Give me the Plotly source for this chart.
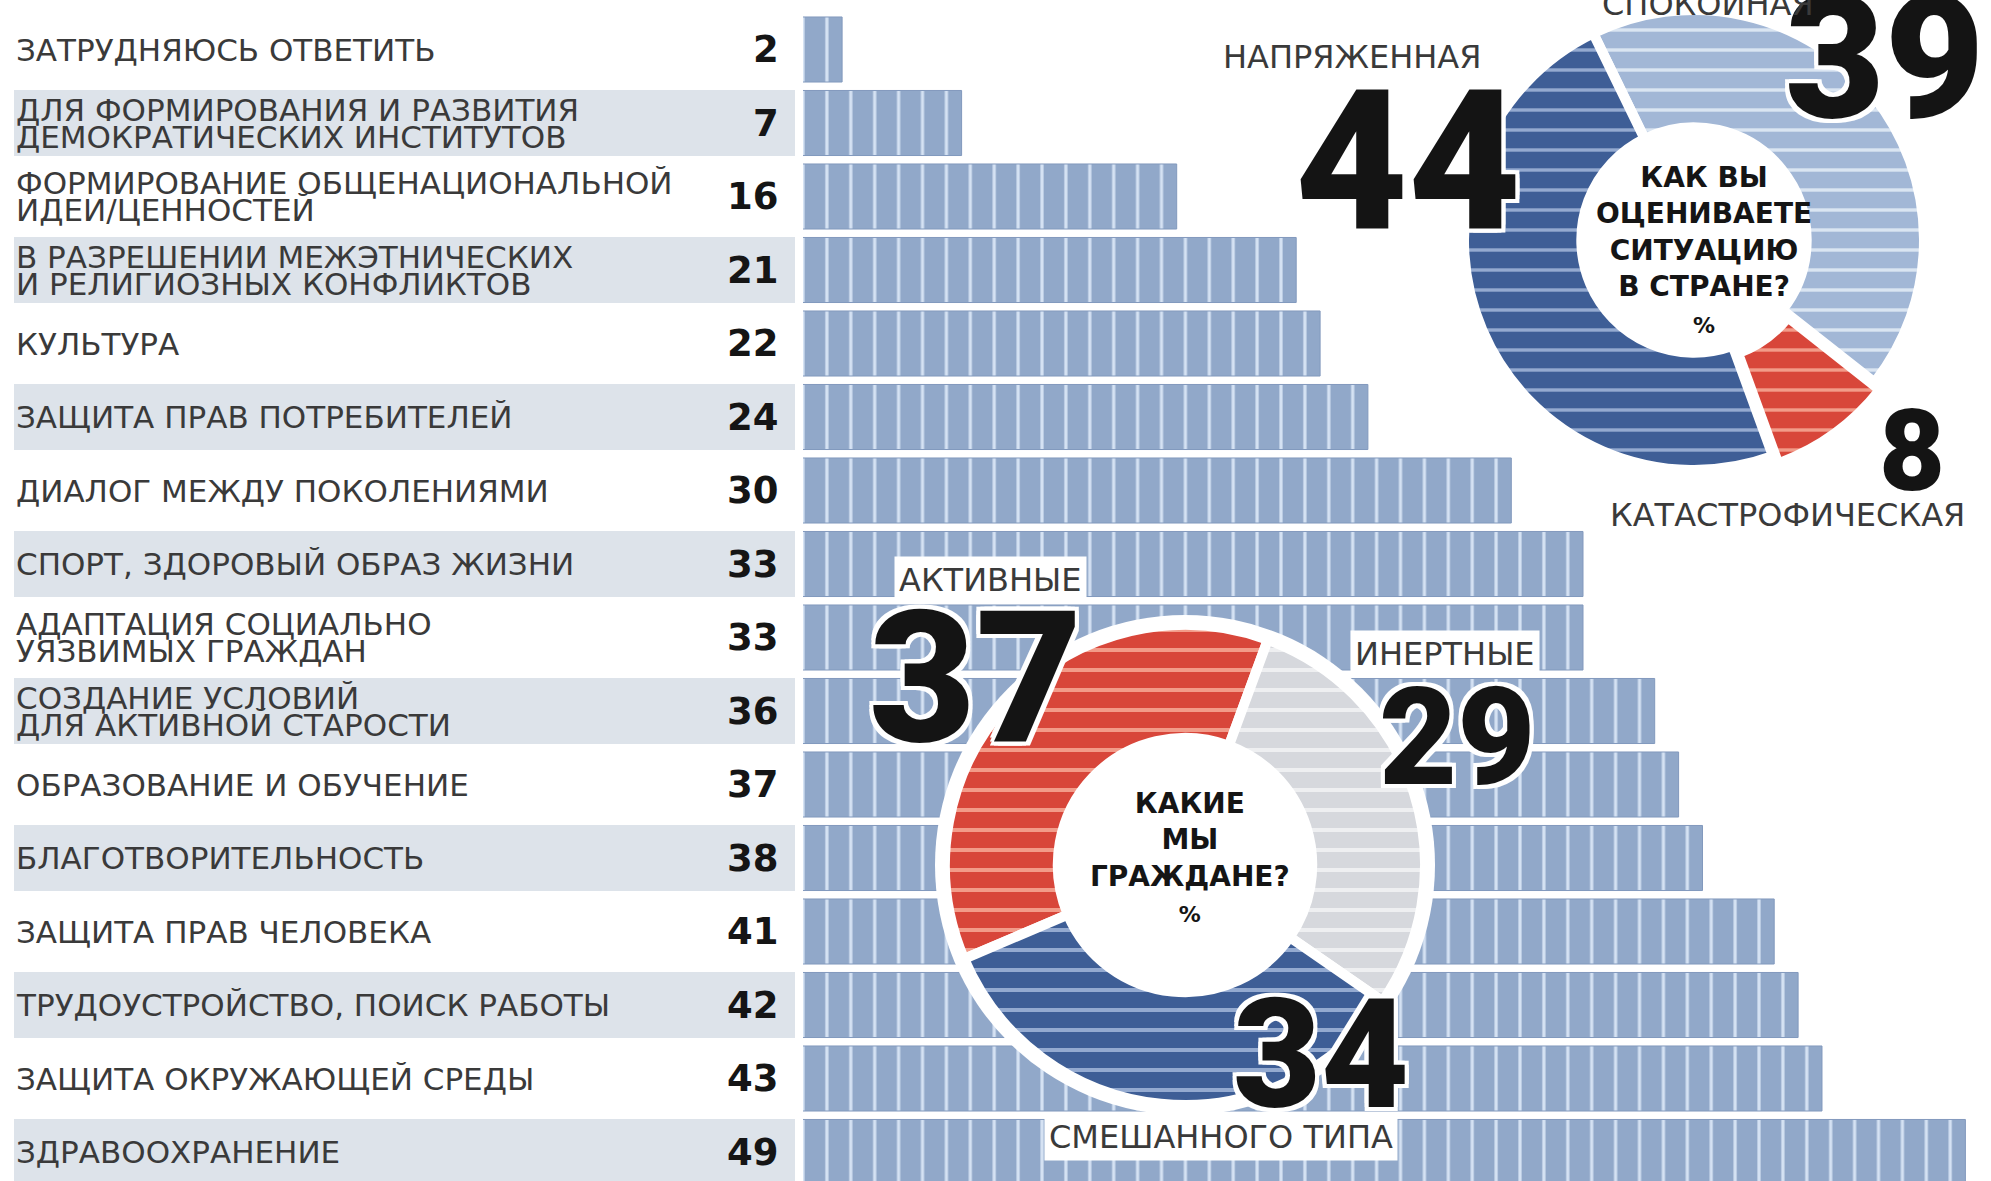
import plotly.graph_objects as go

W, H = 1991, 1181

# ---------------- data ----------------
categories = [
    "ЗАТРУДНЯЮСЬ ОТВЕТИТЬ",
    "ДЛЯ ФОРМИРОВАНИЯ И РАЗВИТИЯ\nДЕМОКРАТИЧЕСКИХ ИНСТИТУТОВ",
    "ФОРМИРОВАНИЕ ОБЩЕНАЦИОНАЛЬНОЙ\nИДЕИ/ЦЕННОСТЕЙ",
    "В РАЗРЕШЕНИИ МЕЖЭТНИЧЕСКИХ\nИ РЕЛИГИОЗНЫХ КОНФЛИКТОВ",
    "КУЛЬТУРА",
    "ЗАЩИТА ПРАВ ПОТРЕБИТЕЛЕЙ",
    "ДИАЛОГ МЕЖДУ ПОКОЛЕНИЯМИ",
    "СПОРТ, ЗДОРОВЫЙ ОБРАЗ ЖИЗНИ",
    "АДАПТАЦИЯ СОЦИАЛЬНО\nУЯЗВИМЫХ ГРАЖДАН",
    "СОЗДАНИЕ УСЛОВИЙ\nДЛЯ АКТИВНОЙ СТАРОСТИ",
    "ОБРАЗОВАНИЕ И ОБУЧЕНИЕ",
    "БЛАГОТВОРИТЕЛЬНОСТЬ",
    "ЗАЩИТА ПРАВ ЧЕЛОВЕКА",
    "ТРУДОУСТРОЙСТВО, ПОИСК РАБОТЫ",
    "ЗАЩИТА ОКРУЖАЮЩЕЙ СРЕДЫ",
    "ЗДРАВООХРАНЕНИЕ",
]
values = [2, 7, 16, 21, 22, 24, 30, 33, 33, 36, 37, 38, 41, 42, 43, 49]

situation_labels = ["СПОКОЙНАЯ", "КАТАСТРОФИЧЕСКАЯ", "НАПРЯЖЕННАЯ"]
situation_values = [39, 8, 44]
situation_title = "КАК ВЫ<br>ОЦЕНИВАЕТЕ<br>СИТУАЦИЮ<br>В СТРАНЕ?"

citizen_labels = ["АКТИВНЫЕ", "ИНЕРТНЫЕ", "СМЕШАННОГО ТИПА"]
citizen_values = [37, 29, 34]
citizen_title = "КАКИЕ<br>МЫ<br>ГРАЖДАНЕ?"

# ---------------- styles / geometry ----------------
ROW0_PX, ROW_PX = 49.5, 73.5
ZERO_PX, UNIT_PX = 794.3, 23.9          # pixel of value 0 and pixels per 1 %
BAR_EDGE_PX = 803                        # visible left edge of bars
AREA_X0 = BAR_EDGE_PX - UNIT_PX / 2      # plot-area start so separators fall on unit edges
BAR_COLOR, SEP_COLOR = "#91a8c9", "#d5e2f3"
BAND_COLOR = "#dde3ea"
LABEL_FONT = dict(family="DejaVu Sans", size=31, color="#3a3a3a")
NUM_FONT = dict(family="DejaVu Sans", size=37, color="#151515", weight="bold")
BIG_FAMILY = "Roboto, Liberation Sans, sans-serif"
OUTLINE = ("-4px -4px 0 #fff, 4px -4px 0 #fff, -4px 4px 0 #fff, 4px 4px 0 #fff, "
           "0 4px 0 #fff, 0 -4px 0 #fff, 4px 0 0 #fff, -4px 0 0 #fff")

RED, RED_S = "#d8463a", "#f29b89"
DARK, DARK_S = "#3e5e96", "#94aad0"
LIGHT, LIGHT_S = "#a2b7d6", "#dae5f2"
GRAY, GRAY_S = "#d6d8dd", "#eeeff1"


def px(x):
    return x / W


def py(y):
    return 1 - y / H


def dom(cx, cy, r):
    return dict(x=[(cx - r) / W, (cx + r) / W], y=[(H - cy - r) / H, (H - cy + r) / H])


fig = go.Figure()

# bars with unit separators (vertical pattern)
fig.add_trace(go.Bar(
    x=values, y=list(range(len(values))), orientation="h", width=0.885,
    marker=dict(color=BAR_COLOR, line=dict(color="#8299bd", width=1),
                pattern=dict(shape="|", size=UNIT_PX, solidity=3.2 / UNIT_PX,
                             fgcolor=SEP_COLOR, bgcolor=BAR_COLOR, fillmode="replace")),
    hoverinfo="skip", showlegend=False,
))

# donut 2 white halo disk
fig.add_trace(go.Pie(
    values=[1], labels=[""], domain=dom(1185, 865, 250), sort=False,
    marker=dict(colors=["white"], line=dict(width=0)),
    textinfo="none", hoverinfo="skip", showlegend=False,
))

# donut 2: citizens
fig.add_trace(go.Pie(
    values=citizen_values, labels=citizen_labels, domain=dom(1185, 865, 240),
    hole=0.53, sort=False, direction="clockwise", rotation=-113,
    marker=dict(colors=[RED, GRAY, DARK], line=dict(color="white", width=10),
                pattern=dict(shape="-", fgcolor=[RED_S, GRAY_S, DARK_S],
                             bgcolor=[RED, GRAY, DARK], size=20, solidity=0.2)),
    textinfo="none", hoverinfo="skip", showlegend=False,
))

# donut 1: situation
pull = [0, 0.04, 0]
fig.add_trace(go.Pie(
    values=situation_values, labels=situation_labels, domain=dom(1694, 240, 230 * 1.04),
    hole=0.49, sort=False, direction="clockwise", rotation=-26, pull=pull,
    marker=dict(colors=[LIGHT, RED, DARK], line=dict(color="white", width=10),
                pattern=dict(shape="-", fgcolor=[LIGHT_S, RED_S, DARK_S],
                             bgcolor=[LIGHT, RED, DARK], size=20, solidity=0.17)),
    textinfo="none", hoverinfo="skip", showlegend=False,
))

# white strip between label column and bars
shapes = [dict(type="rect", xref="paper", yref="paper", x0=px(AREA_X0 - 4), x1=px(BAR_EDGE_PX),
               y0=0, y1=1, fillcolor="white", line=dict(width=0), layer="above")]
annotations = []

# row bands, labels and numbers
for i, (lab, v) in enumerate(zip(categories, values)):
    if i % 2 == 1:
        shapes.append(dict(type="rect", xref="paper", yref="y", x0=px(14), x1=px(795),
                           y0=i - 0.45, y1=i + 0.45, fillcolor=BAND_COLOR,
                           line=dict(width=0), layer="above"))
    lines = lab.split("\n")
    shifts = [0] if len(lines) == 1 else [13.5, -13.5]
    for line, sh in zip(lines, shifts):
        annotations.append(dict(text=line, xref="paper", yref="y", x=px(14), y=i,
                                xanchor="left", yanchor="middle", yshift=sh,
                                showarrow=False, font=LABEL_FONT))
    annotations.append(dict(text=str(v), xref="paper", yref="y", x=px(781), y=i,
                            xanchor="right", yanchor="middle", showarrow=False,
                            font=NUM_FONT))


# donut annotations
def big(text, cx, cy, size):
    annotations.append(dict(text=text, xref="paper", yref="paper", x=px(cx), y=py(cy),
                            xanchor="center", yanchor="middle", showarrow=False,
                            font=dict(family=BIG_FAMILY, size=size, color="#141414",
                                      weight=900, shadow=OUTLINE)))


def lbl(text, cx, cy, boxed=False):
    d = dict(text=text, xref="paper", yref="paper", x=px(cx), y=py(cy),
             xanchor="center", yanchor="middle", showarrow=False,
             font=dict(family="DejaVu Sans", size=32, color="#3a3a3a"))
    if boxed:
        d.update(bgcolor="white", borderpad=4)
    annotations.append(d)


sit_label_pos = [(1708, 4), (1787, 515), (1352, 57)]
sit_num_pos = [(1884, 58, 172), (1912, 451, 114), (1408, 161, 195)]
for lab, v, (lx, ly), (nx, ny, ns) in zip(situation_labels, situation_values, sit_label_pos, sit_num_pos):
    big(str(v), nx, ny, ns)
    lbl(lab, lx, ly)

cit_label_pos = [(990, 580), (1445, 654), (1221, 1137)]
cit_num_pos = [(975, 678, 184), (1457, 738, 135), (1321, 1055, 152)]
for lab, v, (lx, ly), (nx, ny, ns) in zip(citizen_labels, citizen_values, cit_label_pos, cit_num_pos):
    big(str(v), nx, ny, ns)
    lbl(lab, lx, ly, boxed=True)

center_font = dict(family="DejaVu Sans", size=28, color="#151515", weight="bold")
annotations.append(dict(text=situation_title + "<br><span style='font-size:22px'>%</span>",
                        xref="paper", yref="paper", x=px(1704), y=py(249),
                        xanchor="center", yanchor="middle", showarrow=False,
                        align="center", font=center_font))
annotations.append(dict(text=citizen_title + "<br><span style='font-size:22px'>%</span>",
                        xref="paper", yref="paper", x=px(1190), y=py(857),
                        xanchor="center", yanchor="middle", showarrow=False,
                        align="center", font=center_font))

fig.update_layout(
    width=W, height=H, margin=dict(l=0, r=0, t=0, b=0),
    paper_bgcolor="white", plot_bgcolor="white", barmode="overlay",
    xaxis=dict(domain=[AREA_X0 / W, 1],
               range=[(AREA_X0 - ZERO_PX) / UNIT_PX, (W - ZERO_PX) / UNIT_PX],
               visible=False, fixedrange=True),
    yaxis=dict(domain=[0, 1], range=[(H - ROW0_PX) / ROW_PX, -ROW0_PX / ROW_PX],
               visible=False, fixedrange=True),
    shapes=shapes, annotations=annotations, showlegend=False,
)

fig.write_html("out.html", config={"displayModeBar": False},
               post_script="document.body.style.margin='0px';")
